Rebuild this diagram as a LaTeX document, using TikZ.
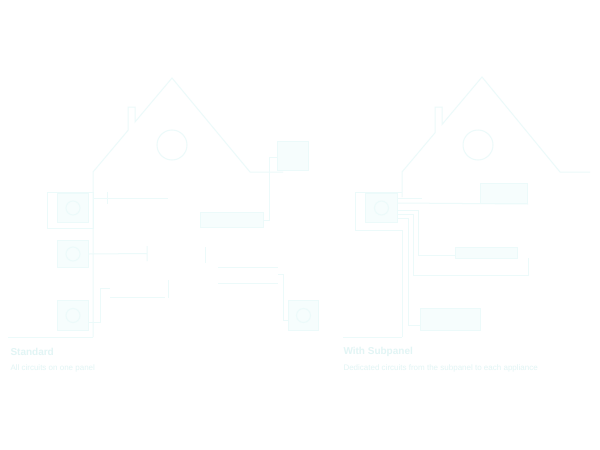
\documentclass[tikz,border=0pt]{standalone}
\usepackage{fontspec}
\setmainfont{Liberation Sans}
\definecolor{lc}{RGB}{236,250,250}
\definecolor{tc}{RGB}{226,245,245}
\definecolor{fc}{RGB}{246,253,253}
\begin{document}
\begin{tikzpicture}[x=1pt,y=-1pt,line width=1pt,
  wire/.style={draw=lc,line join=miter},
  dev/.style={draw=lc,fill=fc,rectangle,inner sep=0pt,anchor=north west},
  ttl/.style={text=tc,font=\bfseries\fontsize{10}{12}\selectfont,anchor=west,inner sep=0pt},
  sub/.style={text=tc,font=\fontsize{8}{10}\selectfont,anchor=west,inner sep=0pt}]
\useasboundingbox (0,0) rectangle (600,450);
\fill[white] (0,0) rectangle (600,450);
% ---------- left house ----------
\draw[wire] (93,337) -- (93,172) -- (128,130.4) -- (128,107) -- (135,107) -- (135,122) -- (172,78) -- (250,172) -- (283,172);
\draw[wire] (8,337) -- (93,337);
\node[draw=lc,circle,minimum size=30pt,inner sep=0pt] (lwin) at (172,145) {};
\draw[wire] (47,192) rectangle (93,228);
\node[dev,minimum width=31pt,minimum height=29pt] (lpa) at (57,193) {};
\node[draw=lc,circle,minimum size=14pt,inner sep=0pt] at (lpa.center) {};
\node[dev,minimum width=31pt,minimum height=27pt] (lpb) at (57,240) {};
\node[draw=lc,circle,minimum size=14pt,inner sep=0pt] at (lpb.center) {};
\node[dev,minimum width=31pt,minimum height=30pt] (lpc) at (57,300) {};
\node[draw=lc,circle,minimum size=14pt,inner sep=0pt] at (lpc.center) {};
\draw[wire] (lpb.east) -- (147,253.5) -- (147,246) (147,253.5) -- (147,261);
\draw[wire] (88,322) -- (100,322) -- (100,288) -- (110,288);
\draw[wire] (110,297) -- (165,297) (168,280) -- (168,298);
\draw[wire] (93,198) -- (168,198) (107,192) -- (107,204);
\node[dev,minimum width=31pt,minimum height=29pt] (lpd) at (277,141) {};
\draw[wire] (277,157) -- (269,157) -- (269,220) -- (263,220);
\node[dev,minimum width=63pt,minimum height=15pt] (lapp) at (200,212) {};
\draw[wire] (205,247) -- (205,263);
\draw[wire] (218,267) -- (278,267) (218,283) -- (278,283);
\draw[wire] (278,274) -- (283,274) -- (283,320) -- (288,320);
\node[dev,minimum width=30pt,minimum height=30pt] (lpe) at (288,300) {};
\node[draw=lc,circle,minimum size=14pt,inner sep=0pt] at (lpe.center) {};
\node[ttl] (lt) at (10,352) {Standard};
\node[sub] (ls) at (10,368) {All circuits on one panel};
% ---------- right house ----------
\draw[wire] (402,197) -- (402,172) -- (435,132.8) -- (435,107) -- (442,107) -- (442,124.5) -- (482,77) -- (560,172) -- (590,172);
\node[draw=lc,circle,minimum size=30pt,inner sep=0pt] (rwin) at (478,145) {};
\draw[wire] (355,192) -- (402,192) (355,192) -- (355,230) -- (402,230) -- (402,337);
\draw[wire] (343,337) -- (402,337);
\node[dev,minimum width=32pt,minimum height=29pt] (rpa) at (365,193) {};
\node[draw=lc,circle,minimum size=14pt,inner sep=0pt] at (rpa.center) {};
\draw[wire] (397,198) -- (422,198);
\node[dev,minimum width=47pt,minimum height=20pt] (rr1) at (480,183) {};
\draw[wire] (397,203) -- (rr1.south east);
\node[dev,minimum width=62pt,minimum height=11pt] (rr2) at (455,247) {};
\draw[wire] (397,210) -- (418,210) -- (418,255) -- (455,255);
\draw[wire] (397,214) -- (413,214) -- (413,275) -- (528,275) -- (528,258);
\node[dev,minimum width=60pt,minimum height=22pt] (rr3) at (420,308) {};
\draw[wire] (397,218) -- (408,218) -- (408,325) -- (420,325);
\node[ttl] (rt) at (343,352) {With Subpanel};
\node[sub] (rs) at (343,368) {Dedicated circuits from the subpanel to each appliance};
\end{tikzpicture}
\end{document}
